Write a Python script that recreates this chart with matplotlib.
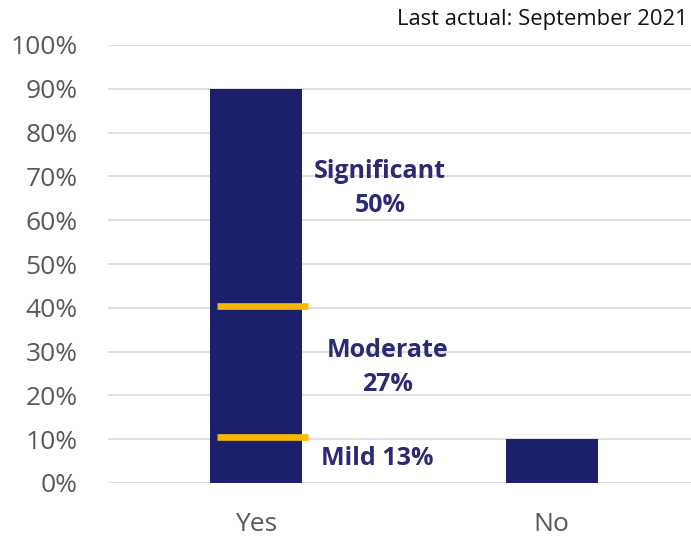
import matplotlib
matplotlib.use("Agg")
import matplotlib.pyplot as plt

categories = ["Yes", "No"]
totals = [90, 10]
segment_names = ["Mild", "Moderate", "Significant"]
segment_shares = [13, 27, 50]
divider_levels = [10.5, 40.3]
yticks = list(range(0, 101, 10))
note = "Last actual: September 2021"

plt.rcParams['font.family'] = ['Open Sans', 'DejaVu Sans']

W, H = 691, 537
fig = plt.figure(figsize=(W / 100, H / 100), dpi=100)
ax = fig.add_axes([108 / W, (H - 483) / H, 1 - 108 / W, (483 - 45) / H])

navy = "#1c1f6b"
text_navy = "#2b2a72"
gold = "#f8b800"

x = list(range(len(categories)))
bw = 0.311
# Yes bar as stacked segments, No bar as a single bar
bottom = 0
for s in segment_shares:
    ax.bar(x[0], s, bw, bottom=bottom, color=navy, zorder=3, linewidth=0)
    bottom += s
ax.bar(x[1], totals[1], bw, color=navy, zorder=3, linewidth=0)

for lvl in divider_levels:
    ax.plot([x[0] - 0.13, x[0] + 0.176], [lvl, lvl], color=gold, lw=4.8,
            solid_capstyle='butt', zorder=4)

ax.set_xlim(-0.5, 1.471)
ax.set_ylim(0, 100)
ax.set_yticks(yticks)
ax.set_yticklabels([f"{v}%" for v in yticks])
ax.set_xticks(x)
ax.set_xticklabels(categories)
ax.tick_params(axis='y', length=0, pad=22, labelsize=19, labelcolor="#595959")
ax.tick_params(axis='x', length=0, pad=21, labelsize=19, labelcolor="#595959")
ax.grid(axis='y', color="#d9d9d9", lw=1.2, zorder=0)
ax.set_axisbelow(True)
for sp in ax.spines.values():
    sp.set_visible(False)

lab_kw = dict(color=text_navy, fontsize=18, fontweight='bold', ha='center', va='center',
              linespacing=1.5)
ax.text(0.42, 67.2, f"{segment_names[2]}\n{segment_shares[2]}%", **lab_kw)
ax.text(0.446, 26.4, f"{segment_names[1]}\n{segment_shares[1]}%", **lab_kw)
ax.text(0.41, 5.5, f"{segment_names[0]} {segment_shares[0]}%", **lab_kw)

fig.text(688 / W, 1 - 20 / H, note, ha='right', va='center', fontsize=15.8, color="#111111")

fig.savefig("out.png", dpi=100)
